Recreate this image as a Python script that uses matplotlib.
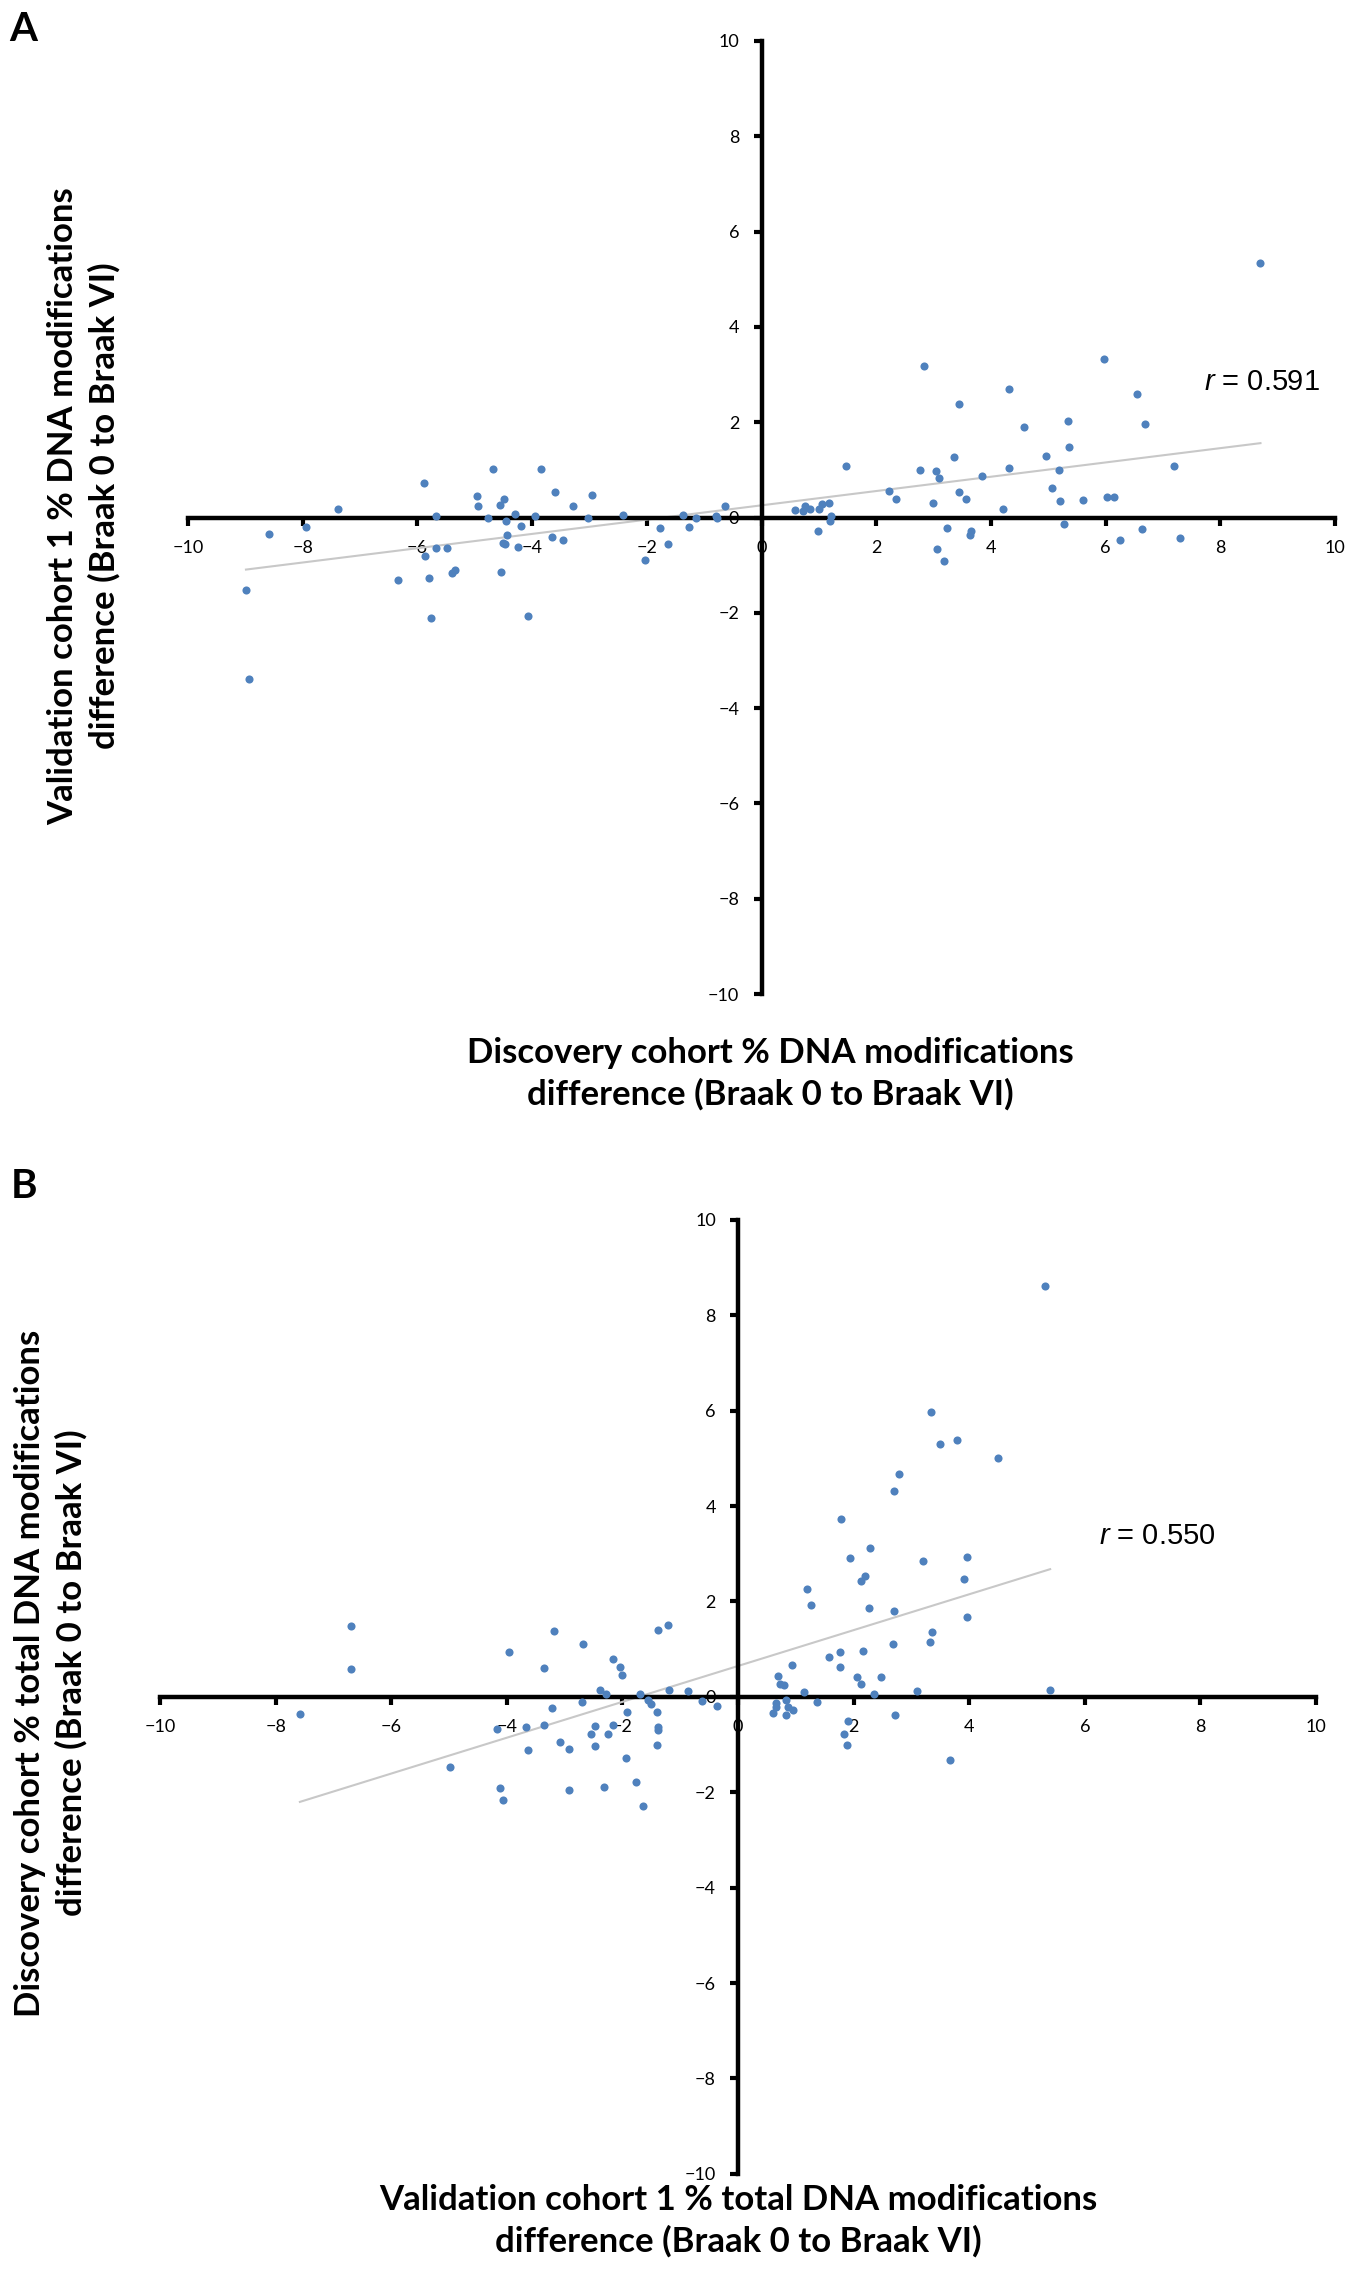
import numpy as np
import matplotlib.pyplot as plt

# Panel A: discovery (x) vs validation cohort 1 (y)
a_x = [-4.68, -3.84, -5.88, -3.60, -4.97, -2.95, -4.49, -4.56, -4.95, -3.29,
       -7.39, -4.30, -3.95, -5.67, -4.77, -3.03, -2.41, -4.45, -4.19, -7.95,
       -8.59, -4.44, -3.66, -3.47, -4.51, -4.47, -5.67, -5.49, -4.25, -5.87,
       -6.34, -5.79, -5.39, -5.35, -4.55, -8.99, -5.77, -4.08, -8.93, -2.04,
       -1.77, -1.63, -1.37, -1.26, -1.15, -0.79, -0.77, -0.64,
       0.59, 0.76, 0.72, 0.85, 1.01, 1.06, 1.17, 1.22, 1.19, 0.99,
       1.47, 2.22, 2.34, 2.83, 2.76, 3.04, 3.10, 2.99, 3.24, 3.06,
       3.18, 3.36, 3.45, 3.45, 3.56, 3.63, 3.66, 3.85, 4.21, 4.31,
       4.32, 4.58, 4.96, 5.06, 5.19, 5.20, 5.28, 5.35, 5.37, 5.61,
       5.97, 6.02, 6.14, 6.25, 6.55, 6.63, 6.68, 7.19, 7.29, 8.70]
a_y = [1.01, 1.01, 0.73, 0.53, 0.45, 0.48, 0.39, 0.27, 0.25, 0.25,
       0.17, 0.08, 0.04, 0.03, -0.01, -0.01, 0.06, -0.07, -0.17, -0.20,
       -0.34, -0.37, -0.41, -0.47, -0.54, -0.56, -0.63, -0.63, -0.62, -0.80,
       -1.31, -1.27, -1.16, -1.11, -1.15, -1.53, -2.10, -2.06, -3.39, -0.90,
       -0.21, -0.55, 0.06, -0.20, -0.01, 0.03, 0.00, 0.25,
       0.15, 0.25, 0.13, 0.18, 0.17, 0.29, 0.31, 0.04, -0.08, -0.28,
       1.08, 0.56, 0.38, 3.19, 0.99, 0.98, 0.83, 0.31, -0.22, -0.65,
       -0.92, 1.27, 2.38, 0.53, 0.38, -0.36, -0.29, 0.88, 0.17, 2.69,
       1.03, 1.90, 1.30, 0.62, 0.99, 0.34, -0.14, 2.03, 1.48, 0.36,
       3.33, 0.43, 0.43, -0.48, 2.59, -0.23, 1.97, 1.08, -0.42, 5.35]

# Panel B: validation cohort 1 (x) vs discovery (y)
b_x = [-7.58, -6.69, -6.69, -4.98, -4.17, -4.12, -4.06, -3.97, -3.66, -3.64,
       -3.36, -3.36, -3.21, -3.19, -3.08, -2.92, -2.92, -2.70, -2.69, -2.55,
       -2.48, -2.47, -2.39, -2.32, -2.28, -2.25, -2.17, -2.16, -2.05, -2.01,
       -1.94, -1.92, -1.76, -1.70, -1.65, -1.56, -1.51, -1.40, -1.39, -1.38,
       -1.38, -1.40, -1.22, -1.19, -0.86, -0.62, -0.37,
       5.31, 3.34, 3.49, 3.79, 4.49, 2.79, 2.69, 1.78, 2.28, 1.94,
       3.20, 3.96, 2.20, 2.13, 3.91, 1.19, 1.27, 2.27, 2.69, 3.97,
       3.36, 3.33, 2.68, 2.16, 1.76, 1.57, 0.94, 1.77, 0.69, 2.06,
       2.48, 0.72, 0.79, 2.12, 1.15, 2.36, 3.09, 5.40, 0.66, 0.65,
       0.83, 0.87, 0.95, 0.60, 0.83, 1.37, 2.72, 1.91, 1.84, 1.88, 3.67]
b_y = [-0.36, 1.49, 0.58, -1.47, -0.68, -1.92, -2.16, 0.95, -0.63, -1.11,
       0.60, -0.59, -0.23, 1.38, -0.94, -1.09, -1.96, -0.11, 1.11, -0.78,
       -1.03, -0.61, 0.14, -1.88, 0.06, -0.78, 0.79, -0.59, 0.63, 0.45,
       -1.28, -0.31, -1.79, 0.06, -2.29, -0.06, -0.14, -0.31, 1.40, -0.64,
       -0.70, -1.00, 1.51, 0.15, 0.13, -0.08, -0.19,
       8.62, 5.97, 5.30, 5.38, 5.00, 4.67, 4.31, 3.72, 3.12, 2.92,
       2.84, 2.93, 2.54, 2.43, 2.48, 2.27, 1.93, 1.86, 1.80, 1.68,
       1.37, 1.16, 1.11, 0.97, 0.95, 0.84, 0.67, 0.62, 0.43, 0.41,
       0.42, 0.27, 0.24, 0.26, 0.11, 0.06, 0.12, 0.15, -0.13, -0.21,
       -0.07, -0.22, -0.28, -0.34, -0.37, -0.10, -0.38, -0.51, -0.78, -1.01, -1.32]

ticks = [-10, -8, -6, -4, -2, 0, 2, 4, 6, 8, 10]

plt.rcParams['font.family'] = ['Lato', 'DejaVu Sans']
plt.rcParams['mathtext.fontset'] = 'custom'
plt.rcParams['mathtext.it'] = 'Liberation Sans:italic'
plt.rcParams['mathtext.rm'] = 'Liberation Sans'

fig = plt.figure(figsize=(13.47, 22.9), dpi=100)
dot = '#4F81BD'


def panel(ax, x, y, r_text, r_pos):
    ax.scatter(x, y, s=34, color=dot, zorder=3, linewidths=0)
    # linear trend line over the range of the data
    k, b = np.polyfit(x, y, 1)
    xs = np.array([min(x), max(x)])
    ax.plot(xs, k * xs + b, color='#C8C8C8', lw=1.5, zorder=2)
    ax.set_xlim(-10, 10)
    ax.set_ylim(-10, 10)
    ax.set_xticks(ticks)
    ax.set_yticks(ticks)
    for s in ['top', 'right']:
        ax.spines[s].set_visible(False)
    for s in ['left', 'bottom']:
        ax.spines[s].set_position(('data', 0))
        ax.spines[s].set_linewidth(3.2)
    ax.tick_params(direction='out', length=6, width=3, labelsize=13, pad=10)
    ax.text(r_pos[0], r_pos[1], r_text, fontsize=21, va='center', ha='left',
            family='Liberation Sans')


ax1 = fig.add_axes([0.1396, 0.5659, 0.8515, 0.4162])
panel(ax1, a_x, a_y, r'$r$ = 0.591', (7.72, 2.85))
ax2 = fig.add_axes([0.1188, 0.0507, 0.8582, 0.4166])
panel(ax2, b_x, b_y, r'$r$ = 0.550', (6.25, 3.38))

lab = dict(fontsize=25, fontweight='bold', ha='center', va='center', linespacing=1.35)
fig.text(0.5717, 0.531, 'Discovery cohort % DNA modifications\ndifference (Braak 0 to Braak VI)', **lab)
fig.text(0.0624, 0.779, 'Validation cohort 1 % DNA modifications\ndifference (Braak 0 to Braak VI)',
         rotation=90, **lab)
fig.text(0.548, 0.0301, 'Validation cohort 1 % total DNA modifications\ndifference (Braak 0 to Braak VI)', **lab)
fig.text(0.0379, 0.2694, 'Discovery cohort % total DNA modifications\ndifference (Braak 0 to Braak VI)',
         rotation=90, **lab)

fig.text(0.017, 0.987, 'A', fontsize=29, fontweight='bold', ha='center', va='center')
fig.text(0.018, 0.4817, 'B', fontsize=29, fontweight='bold', ha='center', va='center')

fig.savefig('out.png', dpi=100)
